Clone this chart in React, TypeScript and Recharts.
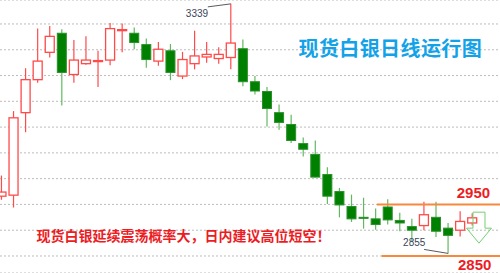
import { ComposedChart, Bar, XAxis, YAxis, CartesianGrid, ReferenceLine, ReferenceDot } from 'recharts';

// 现货白银 daily candles, oldest first
const openPx = [
  2966, 2968, 3128, 3192, 3245, 3282, 3202, 3223, 3228, 3230,
  3287, 3282, 3260, 3228, 3248, 3199, 3223, 3236, 3233, 3235,
  3252, 3188, 3169, 3128, 3105, 3068, 3047, 3008, 2975, 2946,
  2925, 2922, 2945, 2919, 2907, 2909, 2925, 2904, 2900, 2914,
];
const highPx = [
  3006, 3131, 3214, 3291, 3296, 3290, 3269, 3276, 3248, 3302,
  3301, 3293, 3272, 3265, 3261, 3246, 3287, 3265, 3255, 3339,
  3270, 3199, 3178, 3144, 3124, 3080, 3074, 3022, 2982, 2969,
  2963, 2942, 2960, 2934, 2922, 2955, 2955, 2914, 2937, 2933,
];
const lowPx = [
  2959, 2944, 3090, 3186, 3235, 3142, 3186, 3221, 3178, 3220,
  3245, 3251, 3215, 3219, 3191, 3193, 3212, 3225, 3223, 3212,
  3179, 3163, 3101, 3095, 3069, 3043, 3002, 2951, 2925, 2916,
  2903, 2901, 2911, 2898, 2877, 2900, 2887, 2855, 2888, 2909,
];
const closePx = [
  2974, 3118, 3192, 3228, 3276, 3206, 3230, 3230, 3229, 3291,
  3289, 3264, 3231, 3251, 3206, 3231, 3238, 3241, 3241, 3263,
  3188, 3170, 3136, 3109, 3074, 3057, 3003, 2966, 2949, 2922,
  2923, 2911, 2920, 2914, 2900, 2930, 2898, 2890, 2917, 2924,
];

const priceTicks = [2850, 2900, 2950, 3000, 3050, 3100, 3150, 3200, 3250, 3300];
const resistance = 2950;
const support = 2850;
const peakDay = 19;
const troughDay = 37;

const UP = '#ff4a4a';
const DOWN = '#008000';
const DOWN_WICK = '#62b862';
const LEVEL = '#f7883c';
const LEVEL_TEXT = '#ec1c24';

const data = openPx.map((open, i) => ({
  i,
  open,
  high: highPx[i],
  low: lowPx[i],
  close: closePx[i],
  range: [lowPx[i], highPx[i]],
}));

function Candle(props: any) {
  const { x, y, width, height, payload } = props;
  const { open, close, high, low } = payload;
  const toY = (p: number) => y + ((high - p) / (high - low)) * height;
  const cx = x + width / 2;
  const up = close > open;
  const top = toY(Math.max(open, close));
  const bottom = toY(Math.min(open, close));
  const bodyH = Math.max(bottom - top, 1);
  if (up) {
    return (
      <g>
        <line x1={cx} x2={cx} y1={y} y2={y + height} stroke={UP} strokeWidth={1.2} />
        <rect x={cx - 4.5} y={top} width={9} height={bodyH} fill="#fff" stroke={UP} strokeWidth={1.3} />
      </g>
    );
  }
  return (
    <g>
      <line x1={cx} x2={cx} y1={y} y2={y + height} stroke={DOWN_WICK} strokeWidth={1.2} />
      <rect x={cx - 4.5} y={top} width={9} height={bodyH} fill={DOWN} stroke="#2b902b" strokeWidth={1} />
    </g>
  );
}

function PeakNote(props: any) {
  const { cx, cy } = props;
  return (
    <g>
      <line x1={cx - 23} y1={cy + 3} x2={cx} y2={cy} stroke="#5a5a5a" strokeWidth={1} />
      <text x={cx - 45} y={cy + 13.5} fontSize={10} fill="#3a4457" fontFamily="Liberation Sans, Arial, sans-serif">
        {highPx[peakDay]}
      </text>
    </g>
  );
}

function TroughNote(props: any) {
  const { cx, cy } = props;
  return (
    <g>
      <line x1={cx - 24} y1={cy - 4} x2={cx} y2={cy} stroke="#5a5a5a" strokeWidth={1} />
      <text x={cx - 45} y={cy - 7} fontSize={10} fill="#3a4457" fontFamily="Liberation Sans, Arial, sans-serif">
        {lowPx[troughDay]}
      </text>
    </g>
  );
}

const levelText = (dy: number, value: number) => (props: any) => (
  <text
    x={props.cx}
    y={props.cy + dy}
    textAnchor="middle"
    fontSize={15}
    fontWeight={700}
    fill={LEVEL_TEXT}
    fontFamily="Liberation Sans, Arial, sans-serif"
  >
    {value}
  </text>
);

// hollow down arrow hinting at the short bias
function DownArrow(props: any) {
  const { cx, cy } = props;
  const pts = [
    [cx - 6, cy], [cx + 6, cy], [cx + 6, cy + 16], [cx + 12.5, cy + 16],
    [cx, cy + 31], [cx - 12.5, cy + 16], [cx - 6, cy + 16],
  ].map((p) => p.join(',')).join(' ');
  return <polygon points={pts} fill="none" stroke="#72d072" strokeWidth={1} />;
}

export default function App() {
  return (
    <div style={{ position: 'absolute', left: 0, top: 0, width: 500, height: 273, background: '#fff', overflow: 'hidden' }}>
      <ComposedChart width={500} height={273} data={data} margin={{ top: 0, right: 0, bottom: 0, left: 0 }}>
        <CartesianGrid vertical={false} stroke="#bcbcbc" strokeDasharray="2 2" />
        <XAxis type="number" dataKey="i" domain={[-0.124, 41.3]} allowDataOverflow hide />
        <YAxis type="number" domain={[2817, 3346.5]} ticks={priceTicks} allowDataOverflow hide />
        <ReferenceLine segment={[{ x: 31.1, y: resistance }, { x: 41.3, y: resistance }]} stroke={LEVEL} strokeWidth={2} />
        <ReferenceLine segment={[{ x: 31.5, y: support }, { x: 41.3, y: support }]} stroke={LEVEL} strokeWidth={2} />
        <ReferenceDot x={39.56} y={2935} shape={DownArrow} />
        <Bar dataKey="range" barSize={10} shape={Candle} isAnimationActive={false} />
        <ReferenceDot x={peakDay} y={highPx[peakDay]} shape={PeakNote} />
        <ReferenceDot x={troughDay} y={lowPx[troughDay]} shape={TroughNote} />
        <ReferenceDot x={39.1} y={resistance} shape={levelText(-6, resistance)} />
        <ReferenceDot x={39.2} y={support} shape={levelText(14.5, support)} />
      </ComposedChart>
      <div
        style={{
          position: 'absolute', left: 298.5, top: 37.6, fontSize: 20, lineHeight: '20px', letterSpacing: 0.4,
          fontWeight: 700, color: '#12a2e8', fontFamily: '"Noto Sans CJK SC", sans-serif', whiteSpace: 'nowrap',
        }}
      >
        现货白银日线运行图
      </div>
      <div
        style={{
          position: 'absolute', left: 36.5, top: 227.6, fontSize: 14, lineHeight: '14px',
          fontWeight: 700, color: '#ec1c24', fontFamily: '"Noto Sans CJK SC", sans-serif', whiteSpace: 'nowrap',
        }}
      >
        现货白银延续震荡概率大，日内建议高位短空！
      </div>
    </div>
  );
}
